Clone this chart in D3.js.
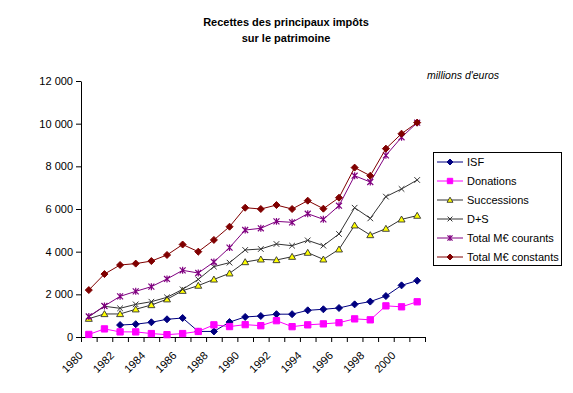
<!DOCTYPE html>
<html>
<head>
<meta charset="utf-8">
<script src="https://cdn.jsdelivr.net/npm/d3@7"></script>
<style>
  body { margin: 0; background: #fff; }
  svg { font-family: Arial, "Liberation Sans", sans-serif; }
</style>
</head>
<body>
<div id="chart"></div>
<script>
// data (millions d'euros)
const years = d3.range(1980, 2002);
const isf = [null, null, 560, 600, 690, 830, 890, 260, 260, 700, 940, 985, 1070, 1070, 1250, 1300, 1360, 1530, 1660, 1920, 2420, 2640];
const donations = [120, 380, 240, 240, 160, 110, 160, 260, 570, 490, 580, 530, 765, 485, 570, 615, 670, 850, 805, 1460, 1415, 1650];
const successions = [860, 1080, 1080, 1300, 1500, 1770, 2170, 2410, 2700, 2985, 3515, 3640, 3610, 3765, 3955, 3640, 4110, 5235, 4780, 5080, 5515, 5690];
const dPlusS = [950, 1440, 1345, 1530, 1655, 1860, 2235, 2700, 3300, 3485, 4080, 4125, 4360, 4280, 4530, 4280, 4830, 6060, 5560, 6580, 6940, 7360];
const totalCourants = [960, 1455, 1905, 2140, 2360, 2720, 3125, 3000, 3515, 4190, 5015, 5095, 5420, 5375, 5780, 5515, 6155, 7560, 7265, 8515, 9360, 10045];
const totalConstants = [2200, 2950, 3375, 3440, 3560, 3845, 4335, 4000, 4550, 5170, 6060, 6000, 6185, 6000, 6390, 6015, 6530, 7940, 7560, 8830, 9530, 10050];
const yTicks = [0, 2000, 4000, 6000, 8000, 10000, 12000];

const series = [
  { name: "ISF", values: isf, color: "#000080", marker: "diamond", fill: "#000080" },
  { name: "Donations", values: donations, color: "#ff00ff", marker: "square", fill: "#ff00ff" },
  { name: "Successions", values: successions, color: "#333333", marker: "triangle", fill: "#ffff00" },
  { name: "D+S", values: dPlusS, color: "#333333", marker: "x", fill: "none" },
  { name: "Total M€ courants", values: totalCourants, color: "#800080", marker: "star", fill: "none" },
  { name: "Total M€ constants", values: totalConstants, color: "#800000", marker: "diamond", fill: "#800000" }
];

const W = 573, H = 393;
const plot = { left: 81, right: 425, top: 81, bottom: 337 };

const svg = d3.select("#chart").append("svg")
  .attr("width", W).attr("height", H);

const x = d3.scaleBand().domain(years).range([plot.left, plot.right]);
const xb = d3.scaleLinear().domain([0, years.length]).range([plot.left, plot.right]);
const y = d3.scaleLinear().domain([0, 12000]).range([plot.bottom, plot.top]);
const cx = yr => x(yr) + x.bandwidth() / 2;

// title
svg.append("text").attr("x", 286).attr("y", 26).attr("text-anchor", "middle")
  .attr("font-size", 11).attr("font-weight", "bold").text("Recettes des principaux impôts");
svg.append("text").attr("x", 286).attr("y", 42).attr("text-anchor", "middle")
  .attr("font-size", 11).attr("font-weight", "bold").text("sur le patrimoine");

svg.append("text").attr("x", 427).attr("y", 79)
  .attr("font-size", 10.5).attr("font-style", "italic").text("millions d'euros");

// axes
const fmt = d => d3.format(",")(d).replace(/,/g, " ");
svg.append("g")
  .attr("transform", `translate(${plot.left},0)`)
  .call(d3.axisLeft(y).tickValues(yTicks).tickFormat(fmt).tickSize(5).tickSizeOuter(0).tickPadding(3))
  .call(g => g.selectAll("text").attr("font-size", 11).attr("fill", "#000").attr("font-family", null))
  .call(g => g.selectAll("line,path").attr("stroke", "#000"));

svg.append("g")
  .attr("transform", `translate(0,${plot.bottom})`)
  .call(d3.axisBottom(xb).tickValues(d3.range(years.length + 1)).tickFormat("").tickSize(5).tickSizeOuter(0))
  .call(g => g.selectAll("line,path").attr("stroke", "#000"));

svg.append("g").selectAll("text")
  .data(years.filter((d, i) => i % 2 === 0))
  .join("text")
  .attr("transform", d => `translate(${cx(d) - 8},${plot.bottom + 16.5}) rotate(-45)`)
  .attr("text-anchor", "end")
  .attr("dy", "0.35em")
  .attr("font-size", 11)
  .text(d => d);

// markers
function drawMarker(sel, s, size) {
  const r = size / 2;
  if (s.marker === "diamond") {
    sel.append("path").attr("d", `M0,${-r}L${r},0L0,${r}L${-r},0Z`)
      .attr("fill", s.fill).attr("stroke", s.color);
  } else if (s.marker === "square") {
    const h = r * 0.9;
    sel.append("path").attr("d", `M${-h},${-h}H${h}V${h}H${-h}Z`)
      .attr("fill", s.fill).attr("stroke", s.fill);
  } else if (s.marker === "triangle") {
    const h = r * 0.95;
    sel.append("path").attr("d", `M0,${-h}L${h * 1.05},${h * 0.8}L${-h * 1.05},${h * 0.8}Z`)
      .attr("fill", s.fill).attr("stroke", s.color).attr("stroke-width", 0.9);
  } else if (s.marker === "x") {
    const h = r * 0.8;
    sel.append("path").attr("d", `M${-h},${-h}L${h},${h}M${-h},${h}L${h},${-h}`)
      .attr("fill", "none").attr("stroke", s.color);
  } else if (s.marker === "star") {
    const h = r * 0.85;
    sel.append("path").attr("d", `M${-h},${-h}L${h},${h}M${-h},${h}L${h},${-h}M0,${-h - 0.5}L0,${h + 0.5}`)
      .attr("fill", "none").attr("stroke", s.color).attr("stroke-width", 1.2);
  }
}

const line = d3.line()
  .defined(d => d.v != null)
  .x(d => cx(d.yr))
  .y(d => y(d.v));

series.forEach(s => {
  const pts = years.map((yr, i) => ({ yr, v: s.values[i] }));
  const g = svg.append("g");
  g.append("path").datum(pts).attr("d", line)
    .attr("fill", "none").attr("stroke", s.color).attr("stroke-width", 1);
  pts.filter(p => p.v != null).forEach(p => {
    const m = g.append("g").attr("transform", `translate(${cx(p.yr)},${y(p.v)})`);
    drawMarker(m, s, 7);
  });
});

// legend
const lg = svg.append("g");
lg.append("rect").attr("x", 433.5).attr("y", 152.5).attr("width", 128).attr("height", 113)
  .attr("fill", "#fff").attr("stroke", "#000");
series.forEach((s, i) => {
  const yy = 162 + i * 19;
  lg.append("line").attr("x1", 437).attr("x2", 463).attr("y1", yy).attr("y2", yy)
    .attr("stroke", s.color);
  drawMarker(lg.append("g").attr("transform", `translate(450,${yy})`), s, 6);
  lg.append("text").attr("x", 467).attr("y", yy).attr("dy", "0.35em")
    .attr("font-size", 11).text(s.name);
});
</script>
</body>
</html>
